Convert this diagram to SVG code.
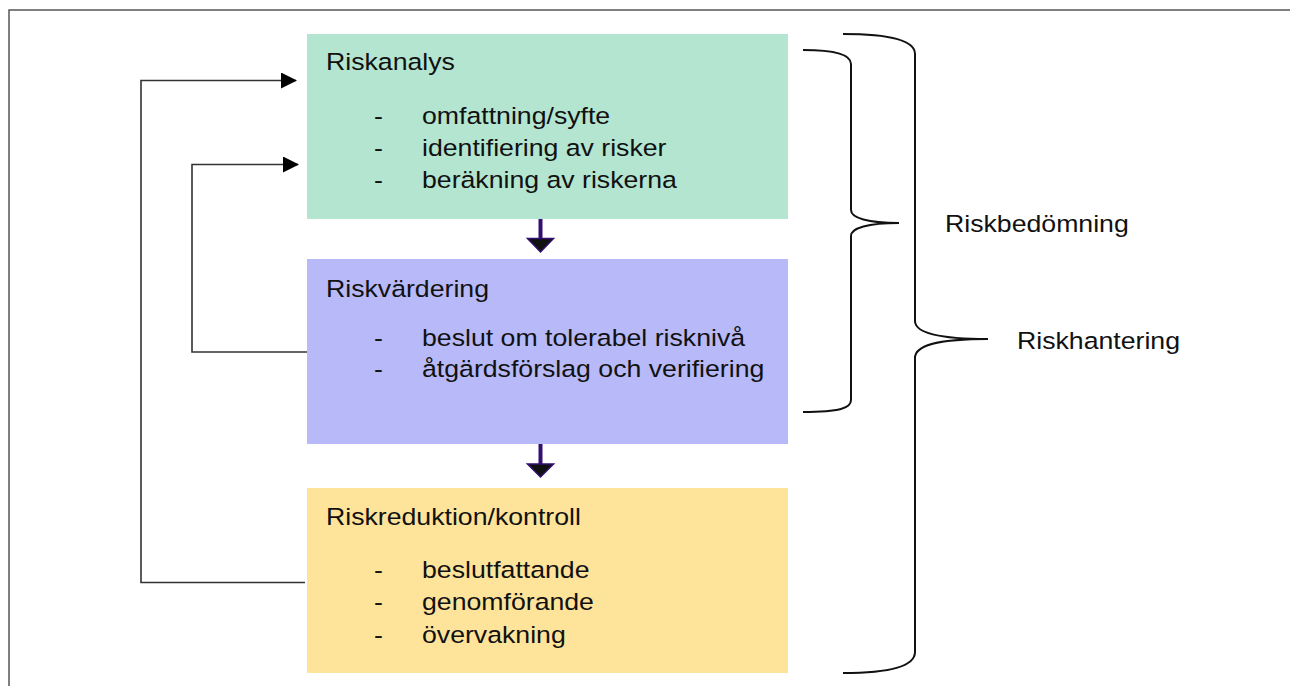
<svg xmlns="http://www.w3.org/2000/svg" width="1290" height="686" viewBox="0 0 1290 686">
<style>
  .t { font-family: "Liberation Sans", Arial, sans-serif; font-size: 23.5px; fill: #111; }
  .conn { fill: none; stroke: #333; stroke-width: 1.6; }
  .brace { fill: none; stroke: #111; stroke-width: 2; }
  .shaft { stroke: #33106e; stroke-width: 4; }
  .head { fill: #111; stroke: #33106e; stroke-width: 1.5; stroke-linejoin: miter; }
</style>
<defs>
  <marker id="ah" viewBox="0 0 16 16" refX="15" refY="8" markerWidth="16" markerHeight="16" markerUnits="userSpaceOnUse" orient="auto">
    <path d="M0,0 L16,8 L0,16 Z" fill="#000"/>
  </marker>
</defs>
<rect x="0" y="0" width="1290" height="686" fill="#fff"/>
<path d="M9,686 L9,10 L1290,10" fill="none" stroke="#555" stroke-width="1.5"/>

<g id="riskanalys">
  <rect x="307" y="34" width="481" height="185" fill="#b3e5d0"/>
  <text class="t" transform="translate(326 70) scale(1.135 1)">Riskanalys</text>
  <text class="t" transform="translate(374 124) scale(1.135 1)">-</text>
  <text class="t" transform="translate(422 124) scale(1.135 1)">omfattning/syfte</text>
  <text class="t" transform="translate(374 156) scale(1.135 1)">-</text>
  <text class="t" transform="translate(422 156) scale(1.135 1)">identifiering av risker</text>
  <text class="t" transform="translate(374 187.5) scale(1.135 1)">-</text>
  <text class="t" transform="translate(422 187.5) scale(1.135 1)">beräkning av riskerna</text>
</g>

<g id="riskvardering">
  <rect x="307" y="259" width="481" height="185" fill="#b8b9f8"/>
  <text class="t" transform="translate(326 296.5) scale(1.135 1)">Riskvärdering</text>
  <text class="t" transform="translate(374 345.5) scale(1.135 1)">-</text>
  <text class="t" transform="translate(422 345.5) scale(1.135 1)">beslut om tolerabel risknivå</text>
  <text class="t" transform="translate(374 377) scale(1.135 1)">-</text>
  <text class="t" transform="translate(422 377) scale(1.135 1)">åtgärdsförslag och verifiering</text>
</g>

<g id="riskreduktion">
  <rect x="307" y="488" width="481" height="185" fill="#fee49b"/>
  <text class="t" transform="translate(326 524.5) scale(1.135 1)">Riskreduktion/kontroll</text>
  <text class="t" transform="translate(374 577.5) scale(1.135 1)">-</text>
  <text class="t" transform="translate(422 577.5) scale(1.135 1)">beslutfattande</text>
  <text class="t" transform="translate(374 610) scale(1.135 1)">-</text>
  <text class="t" transform="translate(422 610) scale(1.135 1)">genomförande</text>
  <text class="t" transform="translate(374 642.5) scale(1.135 1)">-</text>
  <text class="t" transform="translate(422 642.5) scale(1.135 1)">övervakning</text>
</g>

<g id="riskbedomning">
  <path class="brace" d="M803,50 C840,50 851,56 851,64 L851,210 C851,218 868,223 899,223 C868,223 851,228 851,236 L851,400 C851,408 840,412 803,412"/>
  <text class="t" transform="translate(945 232) scale(1.135 1)">Riskbedömning</text>
</g>

<g id="riskhantering">
  <path class="brace" d="M843,34 C895,34 915,42 915,54 L915,321 C915,332 935,339 988,339 C935,339 915,346 915,358 L915,652 C915,665 895,673 843,673"/>
  <text class="t" transform="translate(1017 348.5) scale(1.135 1)">Riskhantering</text>
</g>

<g id="connectors">
  <path class="conn" d="M305,582.5 L141,582.5 L141,80.5 L296,80.5" marker-end="url(#ah)"/>
  <path class="conn" d="M307,352 L192,352 L192,164.5 L298,164.5" marker-end="url(#ah)"/>
  <line class="shaft" x1="540.5" y1="219" x2="540.5" y2="240"/>
  <polygon class="head" points="527.5,238.5 553.5,238.5 540.5,252"/>
  <line class="shaft" x1="540.5" y1="444" x2="540.5" y2="465"/>
  <polygon class="head" points="527.5,464 553.5,464 540.5,477"/>
</g>
</svg>
